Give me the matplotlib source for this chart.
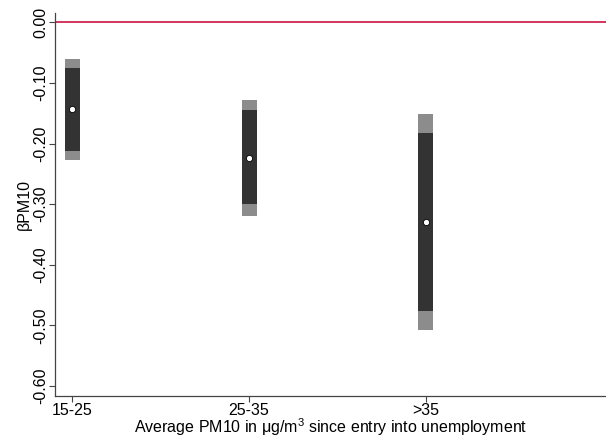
import numpy as np
import matplotlib.pyplot as plt

plt.rcParams['font.family'] = ['Liberation Sans', 'DejaVu Sans']

# groups of average PM10 exposure
groups = ['15-25', '25-35', '>35']
beta = [-0.1436, -0.2240, -0.3295]
ci90_lo = [-0.2124, -0.3000, -0.4770]
ci90_hi = [-0.0748, -0.1450, -0.1820]
ci95_lo = [-0.2277, -0.3190, -0.5080]
ci95_hi = [-0.0600, -0.1287, -0.1507]
yticks = [0.0, -0.1, -0.2, -0.3, -0.4, -0.5, -0.6]

fig = plt.figure(figsize=(6.06, 4.38), dpi=100)
ax = fig.add_axes([0.0908, 0.0959, 0.9092, 0.874])

x = np.arange(1, len(groups) + 1)
w = 0.085
lo95 = np.array(ci95_lo)
hi95 = np.array(ci95_hi)
lo90 = np.array(ci90_lo)
hi90 = np.array(ci90_hi)

ax.bar(x, hi95 - lo95, bottom=lo95, width=w, color='#8c8c8c', linewidth=0)
ax.bar(x, hi90 - lo90, bottom=lo90, width=w, color='#333333', linewidth=0)
ax.plot(x, beta, 'o', color='white', markeredgecolor='black',
        markeredgewidth=0.6, markersize=4.5)

ax.axhline(0, color='#d0264f', lw=1.3)

ax.set_xlim(0.902, 4.02)
ax.set_ylim(-0.6165, 0.015)
ax.set_xticks(x)
ax.set_xticklabels(groups, fontsize=11.5)
ax.set_yticks(yticks)
ax.set_yticklabels(['%.2f' % v if v == 0 else '-%.2f' % abs(v) for v in yticks],
                   rotation=90, va='center', fontsize=11.5)

for s in ['top', 'right']:
    ax.spines[s].set_visible(False)
for s in ['left', 'bottom']:
    ax.spines[s].set_color('#444444')
    ax.spines[s].set_linewidth(0.9)
ax.tick_params(length=4, width=0.8, color='#444444', pad=1)

ax.set_ylabel('βPM10', fontsize=11.5, labelpad=1)
ax.set_xlabel(r'Average PM10 in $\mathregular{\mu}$g/m$^{\mathregular{3}}$ since entry into unemployment',
              fontsize=11.5, labelpad=-1)

fig.savefig('out.png', dpi=100)
